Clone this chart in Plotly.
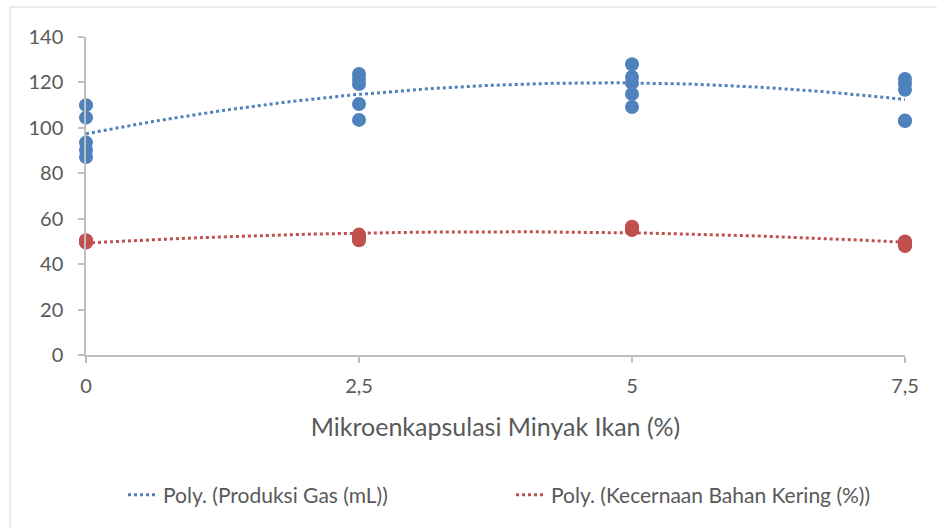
import numpy as np
import plotly.graph_objects as go

# Data
gas_x = [0]*5 + [2.5]*5 + [5]*5 + [7.5]*5
gas_y = [110.0, 104.5, 93.5, 90.3, 87.2,
         123.7, 121.5, 119.3, 110.5, 103.5,
         128.0, 122.4, 119.8, 114.9, 109.2,
         121.5, 119.4, 116.8, 103.2, 103.0]
kbk_x = [0]*5 + [2.5]*5 + [5]*5 + [7.5]*5
kbk_y = [50.0, 49.5, 50.0, 50.5, 49.8,
         53.0, 52.0, 51.0, 50.5, 52.5,
         56.5, 55.5, 55.0, 56.0, 55.3,
         49.5, 48.5, 48.0, 49.0, 50.0]
tick_vals = [0, 2.5, 5, 7.5]
tick_text = ["0", "2,5", "5", "7,5"]
y_ticks = [0, 20, 40, 60, 80, 100, 120, 140]
name_gas = "Poly. (Produksi Gas (mL))"
name_kbk = "Poly. (Kecernaan Bahan Kering (%))"
x_title = "Mikroenkapsulasi Minyak Ikan (%)"

BLUE = "#4F81BD"
RED = "#C0504D"
FONT = "Lato, Carlito, 'Liberation Sans', sans-serif"
GREY_TXT = "#595959"
AXIS = "#BFBFBF"

xs = np.linspace(0, 7.5, 200)
fit_gas = np.polyval(np.polyfit(gas_x, gas_y, 2), xs)
fit_kbk = np.polyval(np.polyfit(kbk_x, kbk_y, 2), xs)

fig = go.Figure()
fig.add_trace(go.Scatter(x=gas_x, y=gas_y, mode="markers", showlegend=False,
                         marker=dict(size=14, color=BLUE), cliponaxis=False))
fig.add_trace(go.Scatter(x=kbk_x, y=kbk_y, mode="markers", showlegend=False,
                         marker=dict(size=14, color=RED), cliponaxis=False))
fig.add_trace(go.Scatter(x=xs, y=fit_gas, mode="lines", name=name_gas,
                         line=dict(color=BLUE, width=3, dash="dot")))
fig.add_trace(go.Scatter(x=xs, y=fit_kbk, mode="lines", name=name_kbk,
                         line=dict(color=RED, width=3, dash="dot")))

W, H = 937, 529
L, R, T, B = 86, 32, 37, 174
pw, ph = W - L - R, H - T - B

def px_x(p):
    return (p - L) / pw

def px_y(p):
    return (H - B - p) / ph

fig.add_shape(type="rect", xref="paper", yref="paper",
              x0=px_x(10), x1=px_x(960), y0=px_y(560), y1=px_y(7),
              line=dict(color="#D9D9D9", width=1), layer="below")

fig.update_layout(
    width=W, height=H,
    margin=dict(l=L, r=R, t=T, b=B, autoexpand=False),
    paper_bgcolor="white", plot_bgcolor="white",
    font=dict(family=FONT, size=20, color=GREY_TXT),
    showlegend=True,
    legend=dict(orientation="h", x=px_x(123), xanchor="left",
                y=px_y(495), yanchor="middle",
                font=dict(size=21, color=GREY_TXT),
                entrywidth=343, entrywidthmode="pixels",
                bgcolor="rgba(0,0,0,0)"),
    xaxis=dict(range=[0, 7.5], tickvals=tick_vals, ticktext=tick_text,
               showgrid=False, zeroline=False, showline=True,
               linecolor=AXIS, linewidth=1.5, ticks="outside",
               ticklen=6, tickcolor=AXIS, tickwidth=1.5,
               ticklabelstandoff=6,
               tickfont=dict(size=20, color=GREY_TXT),
               title=dict(text=x_title, font=dict(size=25, color=GREY_TXT),
                          standoff=23)),
    yaxis=dict(range=[0, 140], tickvals=y_ticks,
               showgrid=False, zeroline=False, showline=True,
               linecolor=AXIS, linewidth=1.5, ticks="outside",
               ticklen=6, tickcolor=AXIS, tickwidth=1.5,
               ticklabelstandoff=11,
               tickfont=dict(size=20, color=GREY_TXT)),
)

fig.write_html("out.html", config={"displayModeBar": False},
               post_script="document.body.style.margin='0';")
